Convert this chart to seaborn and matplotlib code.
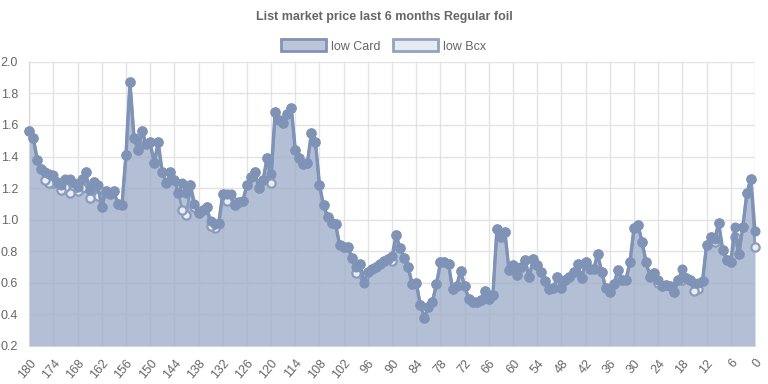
import numpy as np
import pandas as pd
import matplotlib
matplotlib.use("Agg")
import matplotlib.pyplot as plt
import seaborn as sns
from matplotlib.patches import Patch

# ========== Data (days before today, 180 -> 0) ==========
days = list(range(180, -1, -1))

low_card = [
    1.56, 1.52, 1.38, 1.32, 1.30, 1.29, 1.28, 1.24, 1.22, 1.26,   # 180-171
    1.26, 1.23, 1.21, 1.26, 1.30, 1.19, 1.24, 1.22, 1.08, 1.18,   # 170-161
    1.16, 1.18, 1.10, 1.09, 1.41, 1.87, 1.52, 1.44, 1.56, 1.48,   # 160-151
    1.49, 1.36, 1.49, 1.30, 1.23, 1.30, 1.25, 1.17, 1.23, 1.17,   # 150-141
    1.22, 1.10, 1.04, 1.06, 1.08, 0.99, 0.97, 0.98, 1.16, 1.16,   # 140-131
    1.16, 1.09, 1.11, 1.12, 1.22, 1.27, 1.30, 1.20, 1.25, 1.39,   # 130-121
    1.29, 1.68, 1.63, 1.61, 1.67, 1.71, 1.44, 1.39, 1.35, 1.36,   # 120-111
    1.55, 1.49, 1.22, 1.09, 1.02, 0.98, 0.97, 0.84, 0.83, 0.83,   # 110-101
    0.76, 0.70, 0.72, 0.60, 0.67, 0.69, 0.70, 0.72, 0.74, 0.75,   # 100-91
    0.77, 0.90, 0.82, 0.76, 0.70, 0.59, 0.60, 0.46, 0.38, 0.445,  # 90-81
    0.48, 0.59, 0.73, 0.73, 0.72, 0.56, 0.58, 0.675, 0.58, 0.50,  # 80-71
    0.48, 0.48, 0.49, 0.55, 0.50, 0.52, 0.94, 0.89, 0.92, 0.68,   # 70-61
    0.71, 0.65, 0.70, 0.745, 0.635, 0.75, 0.71, 0.67, 0.61, 0.56, # 60-51
    0.565, 0.64, 0.57, 0.62, 0.635, 0.67, 0.72, 0.63, 0.73, 0.69, # 50-41
    0.69, 0.78, 0.67, 0.565, 0.545, 0.59, 0.68, 0.62, 0.62, 0.73, # 40-31
    0.945, 0.967, 0.86, 0.73, 0.64, 0.665, 0.62, 0.58, 0.585, 0.58,  # 30-21
    0.545, 0.62, 0.685, 0.63, 0.62, 0.60, 0.60, 0.61, 0.84, 0.89,    # 20-11
    0.875, 0.98, 0.81, 0.745, 0.73, 0.955, 0.78, 0.955, 1.17, 1.26,  # 10-1
    0.93,                                                            # 0
]

# low Bcx follows low Card except on these days
bcx_diff = {
    176: 1.25, 175: 1.23, 174: 1.23, 172: 1.19, 171: 1.21, 170: 1.17,
    169: 1.20, 168: 1.18, 167: 1.20, 165: 1.14, 163: 1.15, 158: 1.10,
    142: 1.06, 141: 1.03, 139: 1.08, 135: 0.96, 134: 0.95, 133: 0.97,
    131: 1.12, 130: 1.13, 120: 1.23, 99: 0.66, 97: 0.64, 90: 0.74,
    24: 0.60, 18: 0.62, 15: 0.55, 14: 0.56, 10: 0.86, 5: 0.89, 0: 0.83,
}
low_bcx = [bcx_diff.get(d, v) for d, v in zip(days, low_card)]

x_ticks = list(range(180, -1, -6))
y_ticks = [0.2, 0.4, 0.6, 0.8, 1.0, 1.2, 1.4, 1.6, 1.8, 2.0]

df = pd.DataFrame({"day": days, "low Card": low_card, "low Bcx": low_bcx})

# ========== Colours ==========
CARD_LINE = "#7f93b6"
CARD_FILL = "#8d9fbf"
BCX_LINE = "#8a9cbc"
BCX_FILL = "#e4e8f0"
GRID = "#e3e3e3"
TEXT = "#666666"

# ========== Plot ==========
sns.set_style("white")
plt.rcParams["font.family"] = ["Liberation Sans", "DejaVu Sans"]

fig = plt.figure(figsize=(7.68, 3.84), dpi=100)
ax = fig.add_axes([0.038, 0.099, 0.945, 0.74])

ax.fill_between(df["day"], 0.2, df["low Bcx"], color=BCX_FILL, alpha=0.5, lw=0, zorder=1)
ax.fill_between(df["day"], 0.2, df["low Card"], color=CARD_FILL, alpha=0.62, lw=0, zorder=2)

sns.lineplot(data=df, x="day", y="low Bcx", ax=ax, color=BCX_LINE, lw=2.0,
             marker="o", markersize=6, markerfacecolor="#e9edf4",
             markeredgecolor=BCX_LINE, markeredgewidth=1.6, zorder=3, clip_on=False)
sns.lineplot(data=df, x="day", y="low Card", ax=ax, color=CARD_LINE, lw=2.4,
             marker="o", markersize=6.5, markerfacecolor=CARD_LINE,
             markeredgecolor=CARD_LINE, zorder=4, clip_on=False)

ax.set_xlim(180, 0)
ax.set_ylim(0.2, 2.0)
ax.set_xticks(x_ticks)
ax.set_xticklabels([str(t) for t in x_ticks], rotation=50, ha="right",
                   rotation_mode="anchor", fontsize=9, color=TEXT)
ax.set_yticks(y_ticks)
ax.set_yticklabels([f"{t:.1f}" for t in y_ticks], fontsize=9, color=TEXT)
ax.set_xlabel("")
ax.set_ylabel("")

ax.grid(True, color=GRID, lw=1, zorder=0)
ax.set_axisbelow(True)
ax.tick_params(axis="both", length=6, color=GRID, pad=2)
for s in ["top", "right"]:
    ax.spines[s].set_visible(False)
for s in ["left", "bottom"]:
    ax.spines[s].set_color("#d6d6d6")

fig.text(0.5, 0.955, "List market price last 6 months Regular foil",
         ha="center", va="center", fontsize=9, fontweight="bold", color=TEXT)

handles = [
    Patch(facecolor="#bcc6d8", edgecolor="#8193b5", lw=2, label="low Card"),
    Patch(facecolor="#e6eaf1", edgecolor="#93a3c0", lw=2, label="low Bcx"),
]
fig.legend(handles=handles, loc="center", bbox_to_anchor=(0.5, 0.88), ncol=2,
           frameon=False, fontsize=9, handlelength=3.6, handleheight=1.1,
           columnspacing=1.0, handletextpad=0.4, labelcolor=TEXT)

fig.savefig("out.png", dpi=100)
